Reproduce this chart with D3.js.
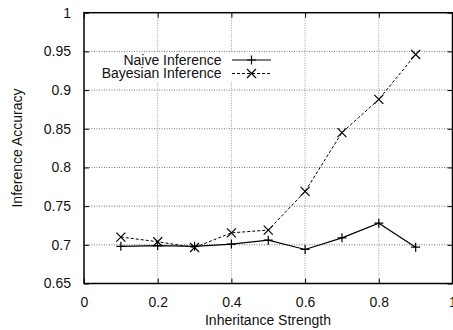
<!DOCTYPE html>
<html>
<head>
<meta charset="utf-8">
<script src="https://cdn.jsdelivr.net/npm/d3@7"></script>
<style>
  body { margin: 0; background: #fff; }
  svg { display: block; font-family: "Liberation Sans", Arial, sans-serif; }
</style>
</head>
<body>
<svg id="chart" width="453" height="330"></svg>
<script>
// values
const strengths = [0.1, 0.2, 0.3, 0.4, 0.5, 0.6, 0.7, 0.8, 0.9];
const naive = [0.698, 0.699, 0.698, 0.701, 0.706, 0.694, 0.709, 0.728, 0.697];
const bayesian = [0.710, 0.704, 0.6965, 0.7155, 0.719, 0.769, 0.845, 0.888, 0.946];
const xTicks = [0, 0.2, 0.4, 0.6, 0.8, 1];
const yTicks = [0.65, 0.7, 0.75, 0.8, 0.85, 0.9, 0.95, 1];

let svg = d3.select("#chart");

let plotLeft = 84, plotRight = 452.5, plotTop = 12.7, plotBottom = 283.5;

let x = d3.scaleLinear().domain([0, 1]).range([plotLeft, plotRight]);
let y = d3.scaleLinear().domain([0.65, 1]).range([plotBottom, plotTop]);

// grid (dotted)
svg.append("g")
    .selectAll("line")
    .data(yTicks.slice(1, -1))
    .enter().append("line")
    .attr("x1", plotLeft).attr("x2", plotRight)
    .attr("y1", d => y(d)).attr("y2", d => y(d))
    .attr("stroke", "#777")
    .attr("stroke-width", 1)
    .attr("stroke-dasharray", "1,1.5");

svg.append("g")
    .selectAll("line")
    .data(xTicks.slice(1, -1))
    .enter().append("line")
    .attr("x1", d => x(d)).attr("x2", d => x(d))
    .attr("y1", plotTop).attr("y2", plotBottom)
    .attr("stroke", "#999")
    .attr("stroke-width", 1)
    .attr("stroke-dasharray", "1,1.5");

// axes with inward ticks on all four sides
let tick = 5;
svg.append("g")
    .attr("transform", `translate(0,${plotBottom})`)
    .call(d3.axisBottom(x).tickValues(xTicks).tickSize(-tick).tickPadding(14).tickFormat(d => d))
    .call(g => g.select(".domain").remove());
svg.append("g")
    .attr("transform", `translate(0,${plotTop})`)
    .call(d3.axisTop(x).tickValues(xTicks).tickSize(-tick).tickFormat(""))
    .call(g => g.select(".domain").remove());
svg.append("g")
    .attr("transform", `translate(${plotLeft},0)`)
    .call(d3.axisLeft(y).tickValues(yTicks).tickSize(-tick).tickPadding(13).tickFormat(d => d))
    .call(g => g.select(".domain").remove());
svg.append("g")
    .attr("transform", `translate(${plotRight},0)`)
    .call(d3.axisRight(y).tickValues(yTicks).tickSize(-tick).tickFormat(""))
    .call(g => g.select(".domain").remove());

svg.selectAll(".tick line").attr("stroke", "#000").attr("stroke-width", 1);
svg.selectAll(".tick text")
    .style("font-size", "14px")
    .style("font-family", "Liberation Sans, Arial, sans-serif")
    .attr("fill", "#111");

// frame
svg.append("rect")
    .attr("x", plotLeft).attr("y", plotTop)
    .attr("width", plotRight - plotLeft).attr("height", plotBottom - plotTop)
    .attr("fill", "none")
    .attr("stroke", "#000")
    .attr("stroke-width", 1.5);

// axis titles
svg.append("text")
    .attr("x", 268).attr("y", 325)
    .attr("text-anchor", "middle")
    .style("font-size", "14px")
    .attr("fill", "#111")
    .text("Inheritance Strength");

svg.append("text")
    .attr("transform", "translate(22,148) rotate(-90)")
    .attr("text-anchor", "middle")
    .style("font-size", "14px")
    .attr("fill", "#111")
    .text("Inference Accuracy");

// legend background hides the grid behind it
svg.append("rect")
    .attr("x", 95).attr("y", 52.5)
    .attr("width", 182).attr("height", 28.5)
    .attr("fill", "#fff");

let line = d3.line().x(d => x(d[0])).y(d => y(d[1]));

function plus(g, cx, cy) {
    g.append("path")
        .attr("d", `M${cx - 4.5},${cy}H${cx + 4.5}M${cx},${cy - 4.5}V${cy + 4.5}`)
        .attr("stroke", "#000").attr("stroke-width", 1.2);
}
function cross(g, cx, cy) {
    g.append("path")
        .attr("d", `M${cx - 4.5},${cy - 4.5}L${cx + 4.5},${cy + 4.5}M${cx - 4.5},${cy + 4.5}L${cx + 4.5},${cy - 4.5}`)
        .attr("stroke", "#000").attr("stroke-width", 1.2);
}

// Bayesian series (dashed, x markers)
let bData = strengths.map((s, i) => [s, bayesian[i]]);
svg.append("path")
    .datum(bData)
    .attr("d", line)
    .attr("fill", "none")
    .attr("stroke", "#000")
    .attr("stroke-width", 1)
    .attr("stroke-dasharray", "3,2");
let bMarks = svg.append("g");
bData.forEach(d => cross(bMarks, x(d[0]), y(d[1])));

// Naive series (solid, + markers)
let nData = strengths.map((s, i) => [s, naive[i]]);
svg.append("path")
    .datum(nData)
    .attr("d", line)
    .attr("fill", "none")
    .attr("stroke", "#000")
    .attr("stroke-width", 1.2);
let nMarks = svg.append("g");
nData.forEach(d => plus(nMarks, x(d[0]), y(d[1])));

// legend
let legend = [
    { name: "Naive Inference", dash: null, mark: plus, y: 60 },
    { name: "Bayesian Inference", dash: "3,2", mark: cross, y: 73.5 }
];
legend.forEach(l => {
    svg.append("text")
        .attr("x", 221.5).attr("y", l.y)
        .attr("dy", "0.35em")
        .attr("text-anchor", "end")
        .style("font-size", "14px")
        .attr("fill", "#111")
        .text(l.name);
    svg.append("line")
        .attr("x1", 232).attr("x2", 271)
        .attr("y1", l.y).attr("y2", l.y)
        .attr("stroke", "#000")
        .attr("stroke-width", l.dash ? 1 : 1.2)
        .attr("stroke-dasharray", l.dash);
    l.mark(svg, 251.5, l.y);
});
</script>
</body>
</html>
